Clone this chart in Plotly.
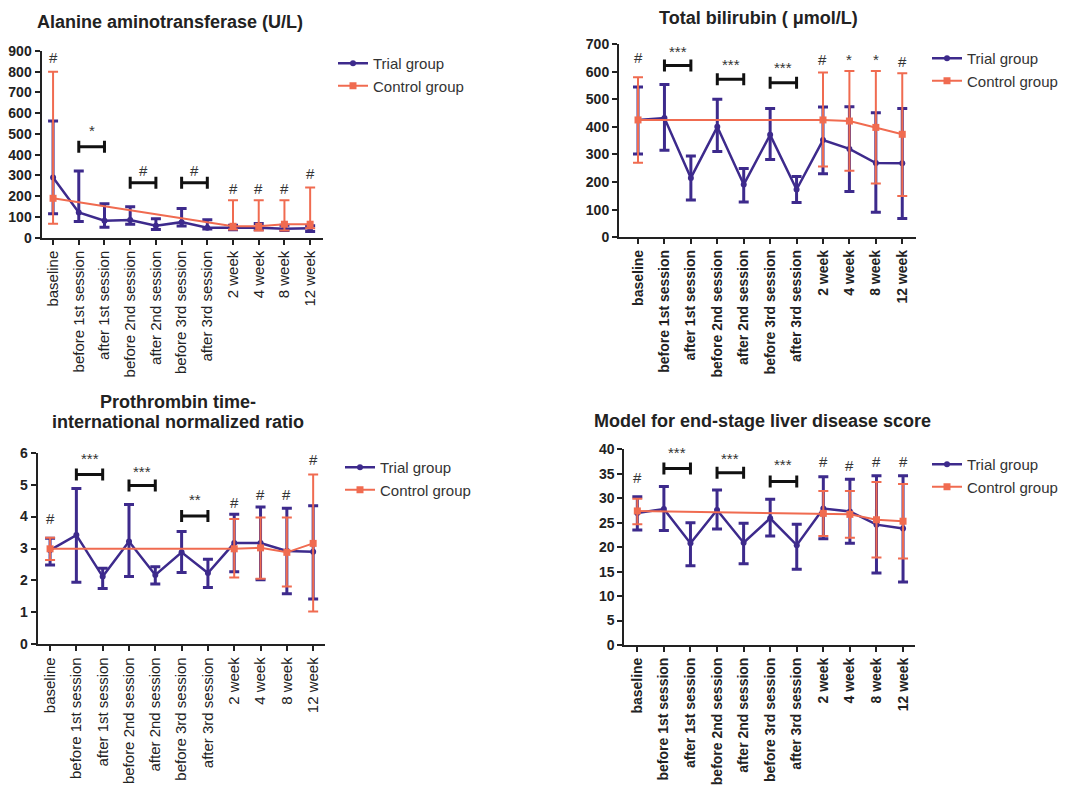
import plotly.graph_objects as go

W, H = 1067, 787
OFF = 8  # page body margin offset

categories = ["baseline", "before 1st session", "after 1st session", "before 2nd session",
              "after 2nd session", "before 3rd session", "after 3rd session",
              "2 week", "4 week", "8 week", "12 week"]
control_idx = [0, 7, 8, 9, 10]

# ---- Alanine aminotransferase ----
alt_trial_mean = [290, 122, 82, 85, 58, 75, 48, 48, 48, 43, 45]
alt_trial_upper = [562, 322, 164, 149, 91, 141, 86, 60, 68, 60, 58]
alt_trial_lower = [116, 78, 50, 65, 40, 57, 42, 38, 38, 35, 30]
alt_ctrl_mean = [190, 55, 55, 65, 65]
alt_ctrl_upper = [800, 181, 181, 181, 242]
alt_ctrl_lower = [67, 40, 35, 35, 45]
alt_marks = [(0, 870, "#"), (1.5, 519, "*"), (3.5, 326, "#"), (5.5, 326, "#"),
             (7, 238, "#"), (8, 238, "#"), (9, 238, "#"), (10, 310, "#")]
alt_brackets = [(1, 2, 439), (3, 4, 265), (5, 6, 265)]

# ---- Total bilirubin ----
tb_trial_mean = [425, 432, 215, 400, 191, 371, 173, 352, 320, 269, 268]
tb_trial_upper = [544, 553, 294, 500, 249, 466, 220, 472, 473, 451, 466]
tb_trial_lower = [302, 315, 135, 311, 128, 282, 126, 230, 166, 91, 68]
tb_ctrl_mean = [425, 425, 421, 398, 373]
tb_ctrl_upper = [580, 597, 602, 602, 594]
tb_ctrl_lower = [270, 256, 241, 195, 150]
tb_marks = [(0, 652, "#"), (1.5, 672, "***"), (3.5, 626, "***"), (5.5, 616, "***"),
            (7, 645, "#"), (8, 644, "*"), (9, 644, "*"), (10, 638, "#")]
tb_brackets = [(1, 2, 622), (3, 4, 572), (5, 6, 560)]

# ---- PT-INR ----
pt_trial_mean = [2.95, 3.42, 2.12, 3.22, 2.17, 2.88, 2.23, 3.17, 3.17, 2.92, 2.9]
pt_trial_upper = [3.32, 4.88, 2.38, 4.38, 2.43, 3.53, 2.66, 4.07, 4.3, 4.26, 4.34]
pt_trial_lower = [2.48, 1.94, 1.75, 2.12, 1.89, 2.25, 1.78, 2.27, 2.02, 1.58, 1.42]
pt_ctrl_mean = [2.99, 2.99, 3.02, 2.88, 3.16]
pt_ctrl_upper = [3.34, 3.92, 3.97, 3.97, 5.32]
pt_ctrl_lower = [2.64, 2.09, 2.05, 1.81, 1.03]
pt_marks = [(0, 3.94, "#"), (1.5, 5.82, "***"), (3.5, 5.42, "***"), (5.5, 4.52, "**"),
            (7, 4.45, "#"), (8, 4.7, "#"), (9, 4.68, "#"), (10, 5.8, "#")]
pt_brackets = [(1, 2, 5.32), (3, 4, 4.97), (5, 6, 4.02)]

# ---- MELD ----
meld_trial_mean = [27.0, 27.8, 20.8, 27.6, 20.9, 25.9, 20.4, 27.9, 27.3, 24.6, 23.8]
meld_trial_upper = [30.3, 32.4, 25.0, 31.7, 24.9, 29.8, 24.7, 34.4, 33.9, 34.6, 34.6]
meld_trial_lower = [23.5, 23.4, 16.2, 23.7, 16.6, 22.3, 15.5, 21.7, 20.8, 14.7, 12.9]
meld_ctrl_mean = [27.4, 26.9, 26.7, 25.6, 25.3]
meld_ctrl_upper = [29.9, 31.5, 31.5, 33.3, 32.9]
meld_ctrl_lower = [24.7, 22.3, 21.9, 17.9, 17.7]
meld_marks = [(0, 34.3, "#"), (1.5, 39.4, "***"), (3.5, 38.1, "***"), (5.5, 36.8, "***"),
              (7, 37.5, "#"), (8, 36.6, "#"), (9, 37.5, "#"), (10, 37.5, "#")]
meld_brackets = [(1, 2, 36.1), (3, 4, 35.2), (5, 6, 33.4)]

TRIAL = "#3d2a8c"
CTRL = "#f06b50"
FONT = "Liberation Sans, Arial, sans-serif"


def px(x):
    return (x - OFF) / W


def py(y):
    return 1 - (y - OFF) / H


panels = [
    dict(title=[("Alanine aminotransferase (U/L)", 170, 22)],
         x_px=(41.5, 323), y_px=(237.7, 51), yrange=(0, 900), dtick=100, xrange=(-0.45, 10.5),
         tm=alt_trial_mean, tu=alt_trial_upper, tl=alt_trial_lower,
         cm=alt_ctrl_mean, cu=alt_ctrl_upper, cl=alt_ctrl_lower,
         marks=alt_marks, brackets=alt_brackets, legend=(333, 47), boldx=False),
    dict(title=[("Total bilirubin ( μmol/L)", 758, 18)],
         x_px=(619, 916), y_px=(237.3, 44), yrange=(0, 700), dtick=100, xrange=(-0.72, 10.52),
         tm=tb_trial_mean, tu=tb_trial_upper, tl=tb_trial_lower,
         cm=tb_ctrl_mean, cu=tb_ctrl_upper, cl=tb_ctrl_lower,
         marks=tb_marks, brackets=tb_brackets, legend=(927, 42), boldx=True),
    dict(title=[("Prothrombin time-", 178, 402), ("international normalized ratio", 178, 422)],
         x_px=(37.7, 325), y_px=(644.3, 452.7), yrange=(0, 6), dtick=1, xrange=(-0.47, 10.45),
         tm=pt_trial_mean, tu=pt_trial_upper, tl=pt_trial_lower,
         cm=pt_ctrl_mean, cu=pt_ctrl_upper, cl=pt_ctrl_lower,
         marks=pt_marks, brackets=pt_brackets, legend=(340, 451), boldx=False),
    dict(title=[("Model for end-stage liver disease score", 762, 421)],
         x_px=(624.3, 915), y_px=(645, 449.3), yrange=(0, 40), dtick=5, xrange=(-0.49, 10.45),
         tm=meld_trial_mean, tu=meld_trial_upper, tl=meld_trial_lower,
         cm=meld_ctrl_mean, cu=meld_ctrl_upper, cl=meld_ctrl_lower,
         marks=meld_marks, brackets=meld_brackets, legend=(927, 448), boldx=True),
]

fig = go.Figure()
annotations = []
shapes = []
layout_extra = {}
xs = list(range(len(categories)))

for i, p in enumerate(panels, start=1):
    sfx = "" if i == 1 else str(i)
    xa, ya = "x" + sfx, "y" + sfx
    lg = "legend" + sfx
    tm, tu, tl = p["tm"], p["tu"], p["tl"]
    cm, cu, cl = p["cm"], p["cu"], p["cl"]
    fig.add_trace(go.Scatter(
        x=xs, y=tm, mode="lines+markers", name="Trial group", legend=lg,
        line=dict(color=TRIAL, width=2.5), marker=dict(color=TRIAL, size=6, symbol="circle"),
        error_y=dict(type="data", symmetric=False,
                     array=[u - m for u, m in zip(tu, tm)],
                     arrayminus=[m - l for m, l in zip(tm, tl)],
                     color=TRIAL, thickness=3, width=5),
        xaxis=xa, yaxis=ya, cliponaxis=False))
    fig.add_trace(go.Scatter(
        x=control_idx, y=cm, mode="lines+markers", name="Control group", legend=lg,
        line=dict(color=CTRL, width=2), marker=dict(color=CTRL, size=7, symbol="square"),
        error_y=dict(type="data", symmetric=False,
                     array=[u - m for u, m in zip(cu, cm)],
                     arrayminus=[m - l for m, l in zip(cm, cl)],
                     color=CTRL, thickness=2, width=5),
        xaxis=xa, yaxis=ya, cliponaxis=False))

    x0p, x1p = p["x_px"]
    yb, yt = p["y_px"]
    xfont = dict(family=FONT, size=14 if p["boldx"] else 15, color="#222")
    layout_extra["xaxis" + sfx] = dict(
        domain=[px(x0p), px(x1p)], range=list(p["xrange"]), anchor=ya,
        tickmode="array", tickvals=xs,
        ticktext=[("<b>%s</b>" % c) if p["boldx"] else c for c in categories],
        tickangle=-90, tickfont=xfont, showline=True, linecolor="#222", linewidth=2,
        ticks="outside", ticklen=5, tickwidth=2, tickcolor="#222", automargin=False,
        showgrid=False, zeroline=False, fixedrange=True)
    layout_extra["yaxis" + sfx] = dict(
        domain=[py(yb), py(yt)], range=list(p["yrange"]), anchor=xa,
        dtick=p["dtick"], tick0=0, tickfont=dict(family=FONT, size=14, color="#222", weight="bold"),
        showline=True, linecolor="#222", linewidth=2, automargin=False,
        ticks="outside", ticklen=5, tickwidth=2, tickcolor="#222",
        showgrid=False, zeroline=False, fixedrange=True)
    lx, ly = p["legend"]
    layout_extra[lg] = dict(x=px(lx), y=py(ly), xanchor="left", yanchor="top",
                            xref="paper", yref="paper",
                            font=dict(family=FONT, size=15, color="#333"),
                            bgcolor="rgba(0,0,0,0)", itemwidth=30, tracegroupgap=0)

    for (tt, tx, ty) in p["title"]:
        annotations.append(dict(text="<b>%s</b>" % tt, x=px(tx), y=py(ty), xref="paper", yref="paper",
                                xanchor="center", yanchor="middle", showarrow=False,
                                font=dict(family=FONT, size=18, color="#222")))
    for (mx, my, mt) in p["marks"]:
        annotations.append(dict(text=mt, x=mx, y=my, xref=xa, yref=ya, showarrow=False,
                                xanchor="center", yanchor="middle",
                                font=dict(family=FONT, size=15, color="#333")))
    for (bx0, bx1, by) in p["brackets"]:
        shapes.append(dict(type="line", xref=xa, yref=ya, x0=bx0, x1=bx1, y0=by, y1=by,
                           line=dict(color="#111", width=3)))
        for bx in (bx0, bx1):
            shapes.append(dict(type="line", xref=xa, yref=ya, x0=bx, x1=bx,
                               ysizemode="pixel", yanchor=by, y0=-6, y1=6,
                               line=dict(color="#111", width=3)))

fig.update_layout(
    width=W, height=H, margin=dict(l=0, r=0, t=0, b=0, autoexpand=False),
    paper_bgcolor="white", plot_bgcolor="white",
    font=dict(family=FONT, color="#222"),
    annotations=annotations, shapes=shapes, showlegend=True,
    **layout_extra)

fig.write_html("out.html")
